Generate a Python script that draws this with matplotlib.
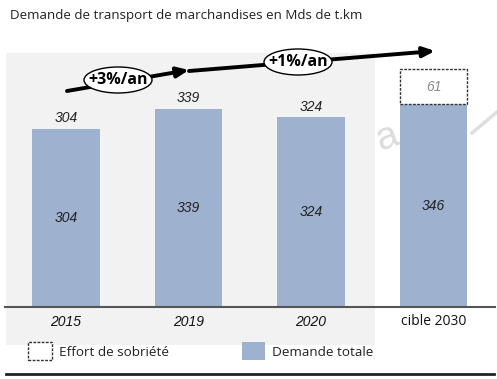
import matplotlib.pyplot as plt
from matplotlib.patches import Rectangle, Ellipse
from matplotlib.lines import Line2D

# data
categories = ['2015', '2019', '2020', 'cible 2030']
demande = [304, 339, 324, 346]
sobriete = [0, 0, 0, 61]
taux = ['+3%/an', '+1%/an']

W, H = 497, 379
bar_color = '#9eb1cf'
num_font = 'Liberation Sans'
txt_font = 'Open Sans'


def px(x, y):
    # pixel (from top-left) -> figure fraction
    return x / W, 1 - y / H


fig = plt.figure(figsize=(W / 100, H / 100), dpi=100)
fig.patch.set_facecolor('white')

# grey panel behind historical years
x0, y0 = px(6, 345)
x1, y1 = px(375, 53)
fig.patches.append(Rectangle((x0, y0), x1 - x0, y1 - y0, transform=fig.transFigure,
                             facecolor='#f2f2f2', edgecolor='none', zorder=-5))

# main axes: baseline at y=307 px, 0.5855 px per unit
ymax = 440
ax_left, ax_bottom = px(4.75, 307)
ax_right, _ = px(494.75, 0)
ax_h = ymax * 0.5855 / H
ax = fig.add_axes([ax_left, ax_bottom, ax_right - ax_left, ax_h])
ax.set_facecolor('none')
ax.set_xlim(-0.5, 3.5)
ax.set_ylim(0, ymax)
ax.axis('off')

xs = list(range(len(categories)))
ax.bar(xs, demande, width=0.55, color=bar_color, zorder=2)
idx = [i for i in xs if sobriete[i] > 0]
ax.bar(idx, [sobriete[i] for i in idx], width=0.55, bottom=[demande[i] for i in idx],
       facecolor='white', edgecolor='#333333', linewidth=1.0, linestyle=(0, (2, 1)),
       zorder=2)

for i, v in enumerate(demande):
    ax.text(i, v / 2, str(v), ha='center', va='center', fontsize=10, style='italic',
            family=num_font, color='#222222', zorder=3)
    if sobriete[i] == 0:
        ax.text(i, v + 6, str(v), ha='center', va='bottom', fontsize=10, style='italic',
                family=num_font, color='#222222', zorder=3)
    else:
        ax.text(i, v + sobriete[i] / 2, str(sobriete[i]), ha='center', va='center',
                fontsize=10, style='italic', family=num_font, color='#8a8a8a', zorder=3)

# baseline
ax.plot([-0.5, 3.5], [0, 0], color='#555555', lw=1.5, clip_on=False, zorder=3)

# category labels
for i, c in enumerate(categories):
    if c.startswith('cible'):
        ax.text(i, -25.6, c, ha='center', va='center', fontsize=10, family=txt_font,
                color='#111111')
    else:
        ax.text(i, -25.6, c, ha='center', va='center', fontsize=10, style='italic',
                family=num_font, color='#111111')

# growth arrows
for (sx, sy), (ex, ey) in [((67, 91), (189, 70)), ((189, 71), (435, 51))]:
    ax.annotate('', xy=px(ex, ey), xytext=px(sx, sy), xycoords='figure fraction',
                textcoords='figure fraction',
                arrowprops=dict(arrowstyle='-|>,head_length=0.7,head_width=0.3',
                                color='black', lw=2.8, shrinkA=0, shrinkB=0))

for (cx, cy), lab in zip([(118, 80), (298, 62)], taux):
    exy = px(cx, cy)
    fig.patches.append(Ellipse(exy, 68 / W, 26 / H, transform=fig.transFigure,
                               facecolor='white', edgecolor='black', lw=1.0, zorder=5))
    fig.text(exy[0], exy[1], lab, ha='center', va='center', fontsize=11.5,
             fontweight='bold', family=txt_font, zorder=6)

# title
tx, ty = px(10, 15)
fig.text(tx, ty, 'Demande de transport de marchandises en Mds de t.km', ha='left',
         va='center', fontsize=9.6, family=txt_font, color='#222222')

# legend
lx, ly = px(28, 360)
fig.patches.append(Rectangle((lx, ly), 24 / W, 18 / H, transform=fig.transFigure,
                             facecolor='white', edgecolor='#333333', lw=1.0,
                             linestyle=(0, (2, 1))))
fig.text(*px(59, 352), 'Effort de sobriété', ha='left', va='center', fontsize=9.7,
         family=txt_font, color='#222222')
bx, by = px(242, 360)
fig.patches.append(Rectangle((bx, by), 23 / W, 18 / H, transform=fig.transFigure,
                             facecolor=bar_color, edgecolor='none'))
fig.text(*px(272, 352), 'Demande totale', ha='left', va='center', fontsize=9.7,
         family=txt_font, color='#222222')

# bottom rule
fig.lines.append(Line2D([6 / W, 494 / W], [1 - 374 / H] * 2, transform=fig.transFigure,
                        color='#222222', lw=2))

# faint watermark fragments
fig.text(*px(387, 138), 'a', fontsize=28, color='#dcdcdc', rotation=20,
         ha='center', va='center', family=num_font, zorder=-1)
fig.lines.append(Line2D([472 / W, 497 / W], [1 - 133 / H, 1 - 112 / H],
                        transform=fig.transFigure, color='#dedede', lw=2.5, zorder=-1))

fig.savefig('out.png', dpi=100)
